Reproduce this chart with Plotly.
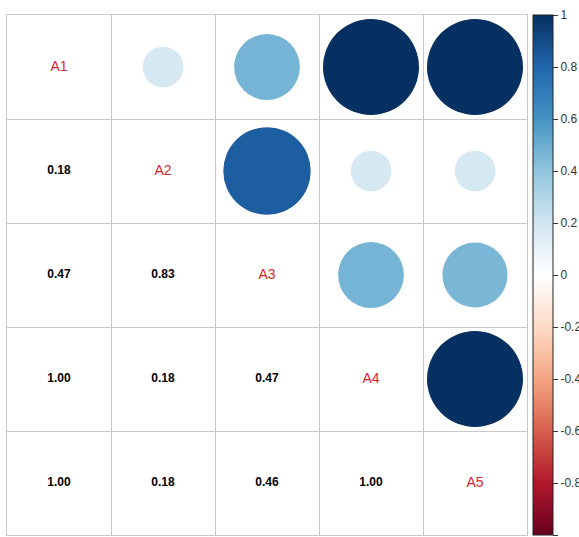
import plotly.graph_objects as go
import numpy as np

labels = ["A1", "A2", "A3", "A4", "A5"]
corr = [
    [1.00, 0.18, 0.47, 1.00, 1.00],
    [0.18, 1.00, 0.83, 0.18, 0.18],
    [0.47, 0.83, 1.00, 0.47, 0.46],
    [1.00, 0.18, 0.47, 1.00, 1.00],
    [1.00, 0.18, 0.46, 1.00, 1.00],
]
cbar_vals = [1, 0.8, 0.6, 0.4, 0.2, 0, -0.2, -0.4, -0.6, -0.8, -1]
cbar_text = ["1", "0.8", "0.6", "0.4", "0.2", "0", "-0.2", "-0.4", "-0.6", "-0.8", "-1"]

rdbu = ["#67001F", "#B2182B", "#D6604D", "#F4A582", "#FDDBC7", "#FFFFFF",
        "#D1E5F0", "#92C5DE", "#4393C3", "#2166AC", "#053061"]
cscale = [[i / 10, c] for i, c in enumerate(rdbu)]

n = len(labels)
MAXD = 96  # px diameter for |r| = 1

cx, cy, cv, cs = [], [], [], []
tx, ty, tt = [], [], []
for i in range(n):
    for j in range(n):
        if j > i:
            cx.append(j + 1); cy.append(i + 1); cv.append(corr[i][j])
            cs.append(MAXD * np.sqrt(abs(corr[i][j])))
        elif j < i:
            tx.append(j + 1); ty.append(i + 1); tt.append(f"{corr[i][j]:.2f}")

fig = go.Figure()
fig.add_trace(go.Scatter(
    x=cx, y=cy, mode="markers",
    marker=dict(size=cs, color=cv, colorscale=cscale, cmin=-1, cmax=1,
                opacity=1, line=dict(width=0),
                colorbar=dict(thickness=20, len=520, lenmode="pixels",
                              x=1.0115, xanchor="left", xpad=0,
                              y=0.5, yanchor="middle", ypad=0,
                              outlinewidth=1, outlinecolor="#222",
                              ticks="outside", ticklen=5, tickcolor="#333",
                              tickvals=cbar_vals, ticktext=cbar_text,
                              tickfont=dict(size=12, color="#333", family="Liberation Sans"))),
    opacity=1, hoverinfo="skip", showlegend=False))
fig.add_trace(go.Scatter(
    x=tx, y=ty, mode="text", text=tt,
    textfont=dict(size=12, color="black", family="Liberation Sans", weight="bold"),
    hoverinfo="skip", showlegend=False))
fig.add_trace(go.Scatter(
    x=list(range(1, n + 1)), y=list(range(1, n + 1)), mode="text", text=labels,
    textfont=dict(size=14, color="#dc2430", family="Liberation Sans"),
    hoverinfo="skip", showlegend=False))

axis = dict(range=[0.5, n + 0.5], tick0=0.5, dtick=1, showgrid=True,
            gridcolor="#c8c8c8", gridwidth=1, zeroline=False,
            showticklabels=False, ticks="", showline=True, mirror=True,
            linecolor="#c8c8c8", linewidth=1, fixedrange=True)
fig.update_layout(
    width=579, height=537,
    margin=dict(l=7, r=52, t=15, b=2, autoexpand=False),
    paper_bgcolor="white", plot_bgcolor="white",
    xaxis=axis,
    yaxis=dict(axis, range=[n + 0.5, 0.5]),
)
fig.write_html("out.html")
